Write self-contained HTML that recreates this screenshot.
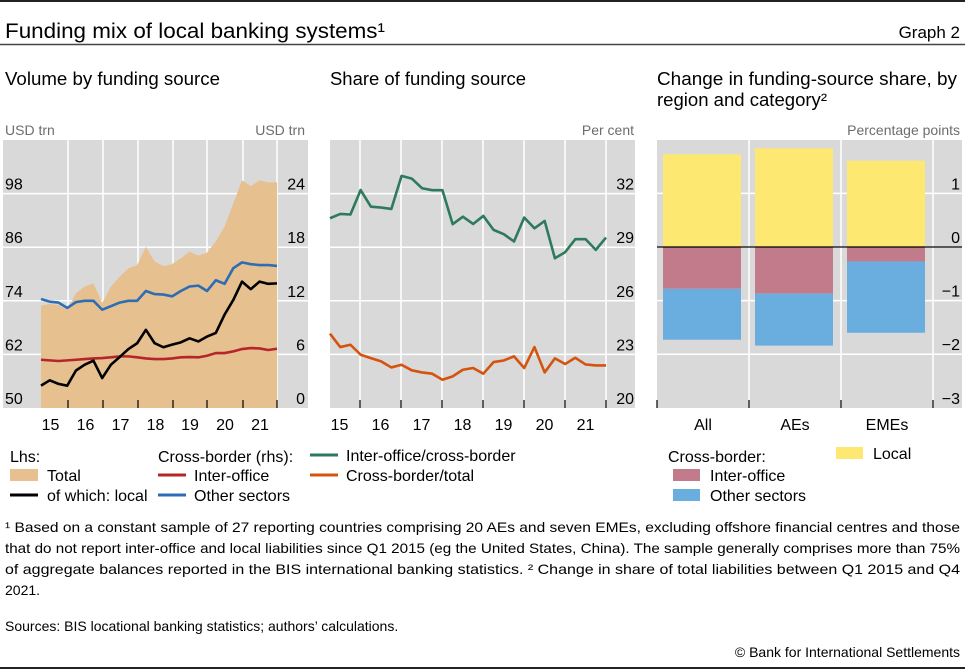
<!DOCTYPE html>
<html><head><meta charset="utf-8"><style>
html,body{margin:0;padding:0;background:#fff;}
svg{display:block;font-family:"Liberation Sans Narrow","Liberation Sans",sans-serif;}
</style></head><body>
<svg id="c" width="965" height="670" viewBox="0 0 965 670" xmlns="http://www.w3.org/2000/svg">
<line x1="0" y1="1" x2="965" y2="1" stroke="#222" stroke-width="2"/>
<text x="5" y="38" font-size="21" textLength="380" lengthAdjust="spacingAndGlyphs">Funding mix of local banking systems¹</text>
<text x="960" y="38" font-size="17" text-anchor="end">Graph 2</text>
<line x1="0" y1="44.5" x2="965" y2="44.5" stroke="#444" stroke-width="1.5"/>
<text x="5" y="85" font-size="18" textLength="215" lengthAdjust="spacingAndGlyphs">Volume by funding source</text>
<text x="330" y="85" font-size="18" textLength="196" lengthAdjust="spacingAndGlyphs">Share of funding source</text>
<text x="657" y="85" font-size="18" textLength="300" lengthAdjust="spacingAndGlyphs">Change in funding-source share, by</text>
<text x="657" y="106" font-size="18" textLength="170" lengthAdjust="spacingAndGlyphs">region and category²</text>
<g font-size="14" fill="#6d6d6d">
<text x="5" y="135">USD trn</text>
<text x="305" y="135" text-anchor="end">USD trn</text>
<text x="634" y="135" text-anchor="end">Per cent</text>
<text x="960" y="135" text-anchor="end">Percentage points</text>
</g>
<rect x="3" y="140" width="305" height="268" fill="#d9d9d9"/>
<rect x="330" y="140" width="305" height="268" fill="#d9d9d9"/>
<rect x="657" y="140" width="305" height="268" fill="#d9d9d9"/>
<g id="g1"></g><g id="g2"></g><g id="g3"></g>
<g font-size="16">
<text x="10" y="462">Lhs:</text>
<rect x="10" y="469" width="28" height="12" fill="#e6c18f"/>
<text x="47" y="481">Total</text>
<line x1="10" y1="495" x2="38" y2="495" stroke="#000" stroke-width="3"/>
<text x="47" y="501">of which: local</text>
<text x="158" y="462">Cross-border (rhs):</text>
<line x1="158" y1="475" x2="186" y2="475" stroke="#b5252b" stroke-width="3"/>
<text x="194" y="481">Inter-office</text>
<line x1="158" y1="495" x2="186" y2="495" stroke="#2e6db4" stroke-width="3"/>
<text x="194" y="501">Other sectors</text>
<line x1="310" y1="455" x2="338" y2="455" stroke="#2e7a5c" stroke-width="3"/>
<text x="346" y="461">Inter-office/cross-border</text>
<line x1="310" y1="475" x2="338" y2="475" stroke="#d4530f" stroke-width="3"/>
<text x="346" y="481">Cross-border/total</text>
<text x="668" y="462">Cross-border:</text>
<rect x="673" y="469" width="27" height="12" fill="#c27b8a"/>
<text x="710" y="481">Inter-office</text>
<rect x="673" y="489" width="27" height="12" fill="#6aaee0"/>
<text x="710" y="501">Other sectors</text>
<rect x="836" y="447" width="27" height="12" fill="#fde972"/>
<text x="873" y="459">Local</text>
</g>
<g font-size="14">
<text x="5" y="532" textLength="955" lengthAdjust="spacingAndGlyphs">¹  Based on a constant sample of 27 reporting countries comprising 20 AEs and seven EMEs, excluding offshore financial centres and those</text>
<text x="5" y="553" textLength="955" lengthAdjust="spacingAndGlyphs">that do not report inter-office and local liabilities since Q1 2015 (eg the United States, China). The sample generally comprises more than 75%</text>
<text x="5" y="574" textLength="955" lengthAdjust="spacingAndGlyphs">of aggregate balances reported in the BIS international banking statistics.   ²  Change in share of total liabilities between Q1 2015 and Q4</text>
<text x="5" y="595">2021.</text>
<text x="5" y="631">Sources: BIS locational banking statistics; authors’ calculations.</text>
<text x="960" y="657" text-anchor="end">© Bank for International Settlements</text>
</g>
<line x1="0" y1="668" x2="965" y2="668" stroke="#222" stroke-width="2"/>
</svg>
<script>
const years = ["15","16","17","18","19","20","21"];
const total = [72.9,73.3,73.0,72.0,75.7,77.2,77.9,73.5,77.2,79.4,81.3,82.0,86.1,82.8,81.8,82.2,83.5,85.0,84.1,84.8,87.3,90.6,95.8,101.0,99.7,101.0,100.5,100.5];
const local = [55.0,56.2,55.4,55.0,58.4,59.7,60.6,56.7,59.7,61.4,63.2,64.5,67.5,64.5,63.6,64.2,64.7,65.6,64.9,66.0,66.8,70.9,74.2,78.3,76.6,78.3,77.8,77.9];
const interOffice = [5.40,5.33,5.26,5.33,5.40,5.48,5.55,5.59,5.67,5.78,5.78,5.67,5.55,5.48,5.48,5.55,5.67,5.70,5.67,5.85,6.15,6.15,6.34,6.60,6.71,6.67,6.49,6.63];
const otherSectors = [12.2,11.9,11.8,11.2,11.85,12.0,12.0,11.0,11.4,11.8,12.0,12.0,13.1,12.75,12.7,12.5,13.1,13.6,13.7,13.1,14.3,13.9,15.65,16.3,16.1,16.0,16.0,15.9];
const leftTicks = [50,62,74,86,98];
const rightTicks = [0,6,12,18,24];
const shareInterOffice = [30.62,30.86,30.83,32.20,31.27,31.22,31.14,32.99,32.84,32.30,32.19,32.19,30.29,30.71,30.30,30.75,29.97,29.73,29.32,30.66,30.06,30.47,28.38,28.72,29.45,29.45,28.85,29.54];
const shareCrossBorder = [24.16,23.41,23.54,22.98,22.79,22.61,22.27,22.42,22.11,21.99,21.92,21.58,21.77,22.14,22.24,21.92,22.57,22.66,22.89,22.24,23.41,21.99,22.78,22.46,22.81,22.44,22.38,22.38];
const shareTicks = [20,23,26,29,32];
const regions = ["All","AEs","EMEs"];
const barLocal = [1.73,1.84,1.61];
const barInterOffice = [-0.78,-0.87,-0.27];
const barOther = [-0.95,-0.97,-1.33];
const barTicks = [-3,-2,-1,0,1];

const NS="http://www.w3.org/2000/svg";
function mk(parent,tag,attrs,text){const e=document.createElementNS(NS,tag);for(const k in attrs)e.setAttribute(k,attrs[k]);if(text!==undefined)e.textContent=text;parent.appendChild(e);return e;}
const TOP=140,BOT=408;
const g1=document.getElementById('g1');
const x1=i=>41+i*(277-41)/(total.length-1);
const yL=v=>BOT-(v-50)/60*(BOT-TOP);
const yR=v=>BOT-v/30*(BOT-TOP);
leftTicks.forEach((t,k)=>{const y=yL(t);
 if(k>0){const l=mk(g1,'line',{x1:3,x2:308,y1:y,y2:y,stroke:'#fff','stroke-width':1.5});
 
 }
 const a=mk(g1,'text',{x:5,y:y-4,'font-size':16},String(t));
 
 
 const b=mk(g1,'text',{x:305,y:yR(rightTicks[k])-4,'font-size':16,'text-anchor':'end'},String(rightTicks[k]));
 
 
});
const yb1=[33,68,103,138,173,207,243,277];
for(let k=1;k<yb1.length;k++){const l=mk(g1,'line',{x1:yb1[k],x2:yb1[k],y1:TOP,y2:BOT,stroke:'#fff','stroke-width':1.5});
 
 }
let ap='M'+x1(0)+','+BOT+' '+total.map((v,i)=>'L'+x1(i)+','+yL(v)).join(' ')+' L'+x1(total.length-1)+','+BOT+'Z';
const area=mk(g1,'path',{d:ap,fill:'#e6c18f'});


for(let k=1;k<yb1.length;k++){const l=mk(g1,'line',{x1:yb1[k],x2:yb1[k],y1:BOT-8,y2:BOT,stroke:'#000','stroke-width':1.2});
 
 }
years.forEach((y,k)=>{const t=mk(g1,'text',{x:(yb1[k]+yb1[k+1])/2,y:430,'font-size':16,'text-anchor':'middle'},y);
 
 });
function line(g,arr,xf,yf,col,name){const p=mk(g,'polyline',{points:arr.map((v,i)=>xf(i)+','+yf(v)).join(' '),fill:'none',stroke:col,'stroke-width':2.6,'stroke-linejoin':'round'});
 
 }
line(g1,interOffice,x1,yR,'#b5252b','inter-office-line');
line(g1,otherSectors,x1,yR,'#2e6db4','other-sectors-line');
line(g1,local,x1,yL,'#000','local-line');
const g2=document.getElementById('g2');
const x2=i=>330+i*276/(shareInterOffice.length-1);
const yM=v=>BOT-(v-20)/15*(BOT-TOP);
shareTicks.forEach((t,k)=>{const y=yM(t);
 if(k>0){const l=mk(g2,'line',{x1:330,x2:635,y1:y,y2:y,stroke:'#fff','stroke-width':1.5});
 
 }
 const a=mk(g2,'text',{x:634,y:y-4,'font-size':16,'text-anchor':'end'},String(t));
 
 });
const yb2=[319,360,401,442,483,524,565,606];
for(let k=1;k<yb2.length;k++){const l=mk(g2,'line',{x1:yb2[k],x2:yb2[k],y1:TOP,y2:BOT,stroke:'#fff','stroke-width':1.5});
 
 
 const t=mk(g2,'line',{x1:yb2[k],x2:yb2[k],y1:BOT-8,y2:BOT,stroke:'#000','stroke-width':1.2});
 
 }
years.forEach((y,k)=>{const t=mk(g2,'text',{x:(yb2[k]+yb2[k+1])/2,y:430,'font-size':16,'text-anchor':'middle'},y);
 
 });
line(g2,shareInterOffice,x2,yM,'#2e7a5c','inter-office-share-line');
line(g2,shareCrossBorder,x2,yM,'#d4530f','cross-border-share-line');
const g3=document.getElementById('g3');
const yB=v=>247-v*53.6;
barTicks.forEach(t=>{const y=yB(t);
 if(t>-3){const l=mk(g3,'line',{x1:657,x2:962,y1:y,y2:y,stroke:'#fff','stroke-width':1.5});
 
 }
 const a=mk(g3,'text',{x:960,y:y-4,'font-size':16,'text-anchor':'end'},t<0?'\u2212'+(-t):String(t));
 
 });
const cw=92;
for(let k=0;k<=regions.length;k++){const xx=657+k*cw;
 if(k>0){const l=mk(g3,'line',{x1:xx,x2:xx,y1:TOP,y2:BOT,stroke:'#fff','stroke-width':1.5});
 
 }
 const t=mk(g3,'line',{x1:xx,x2:xx,y1:BOT-8,y2:BOT,stroke:'#000','stroke-width':1.2});
 
 }
regions.forEach((r,k)=>{const bx=657+k*cw+6,bw=78;
 const a=mk(g3,'rect',{x:bx,y:yB(barLocal[k]),width:bw,height:yB(0)-yB(barLocal[k]),fill:'#fde972'});
 
 
 const b=mk(g3,'rect',{x:bx,y:yB(0),width:bw,height:yB(barInterOffice[k])-yB(0),fill:'#c27b8a'});
 
 
 const s=barInterOffice[k];
 const c=mk(g3,'rect',{x:bx,y:yB(s),width:bw,height:yB(s+barOther[k])-yB(s),fill:'#6aaee0'});
 
 
 const t=mk(g3,'text',{x:657+k*cw+cw/2,y:430,'font-size':16,'text-anchor':'middle'},r);
 
 });
const z=mk(g3,'line',{x1:657,x2:962,y1:yB(0),y2:yB(0),stroke:'#000','stroke-width':1.3});


</script>
</body></html>
